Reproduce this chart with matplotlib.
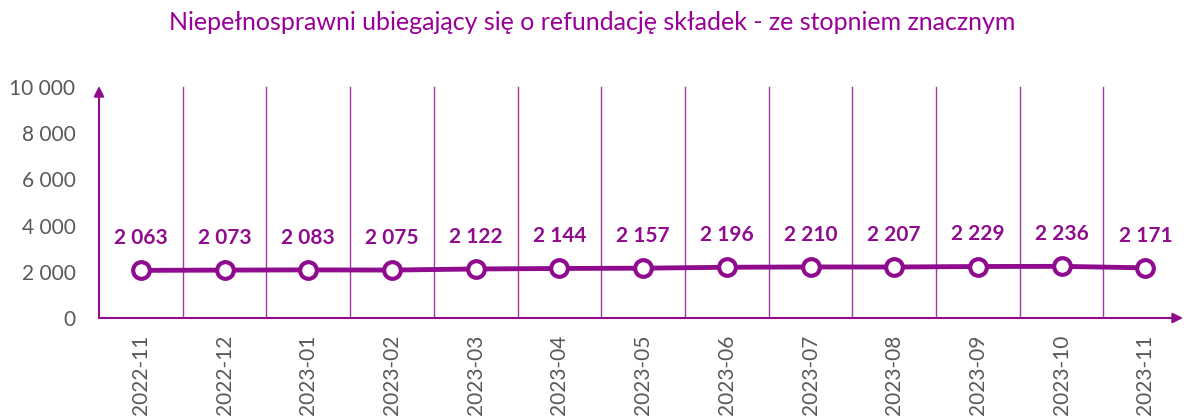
import matplotlib
matplotlib.use("Agg")
import matplotlib.pyplot as plt
from matplotlib.ticker import FuncFormatter

categories = ["2022-11", "2022-12", "2023-01", "2023-02", "2023-03", "2023-04",
              "2023-05", "2023-06", "2023-07", "2023-08", "2023-09", "2023-10", "2023-11"]
values = [2063, 2073, 2083, 2075, 2122, 2144, 2157, 2196, 2210, 2207, 2229, 2236, 2171]
y_ticks = [0, 2000, 4000, 6000, 8000, 10000]
title = "Niepełnosprawni ubiegający się o refundację składek - ze stopniem znacznym"

PURPLE = "#900C8E"
GRID = "#A23AA6"
GREY = "#595959"

plt.rcParams["font.family"] = ["Lato", "DejaVu Sans"]

W, H = 1184, 417
fig = plt.figure(figsize=(W / 100, H / 100), dpi=100)
left_px, right_px, top_px, bottom_px = 99, 1183, 86, 318
ax = fig.add_axes([left_px / W, (H - bottom_px) / H, (right_px - left_px) / W, (bottom_px - top_px) / H])

x = list(range(len(categories)))
ax.plot(x, values, color=PURPLE, lw=3.5, marker="o", ms=12, mfc="white",
        mec=PURPLE, mew=3, zorder=5, clip_on=False)

for xi, v in zip(x, values):
    ax.annotate(f"{v:,}".replace(",", " "), (xi, v), xytext=(0, 16), textcoords="offset points",
                ha="center", va="bottom", color=PURPLE, fontsize=15, fontweight="bold")

for b in range(len(categories) - 1):
    ax.plot([b + 0.5, b + 0.5], [0, 10000], color=GRID, lw=1, zorder=1)

ax.set_xlim(-0.5, 12.45)
ax.set_ylim(0, 10000 * (bottom_px - top_px) / (bottom_px - 87))
for s in ax.spines.values():
    s.set_visible(False)

# axes arrows
ax.annotate("", xy=(0, 1), xycoords="axes fraction", xytext=(0, 0),
            arrowprops=dict(arrowstyle="-|>", color=PURPLE, lw=1.5, mutation_scale=15,
                            shrinkA=0, shrinkB=0))
ax.annotate("", xy=(1, 0), xycoords="axes fraction", xytext=(0, 0),
            arrowprops=dict(arrowstyle="-|>", color=PURPLE, lw=1.5, mutation_scale=15,
                            shrinkA=0, shrinkB=0))

ax.set_yticks(y_ticks)
ax.yaxis.set_major_formatter(FuncFormatter(lambda v, p: f"{int(v):,}".replace(",", " ")))
ax.set_xticks(x)
ax.set_xticklabels(categories, rotation=90)
ax.tick_params(axis="y", length=0, pad=17, labelsize=15, labelcolor=GREY)
ax.tick_params(axis="x", length=0, pad=12, labelsize=15, labelcolor=GREY)

fig.text(0.5, 0.945, title, ha="center", va="center", color="#990099", fontsize=18)

fig.savefig("out.png", dpi=100, facecolor="white")
